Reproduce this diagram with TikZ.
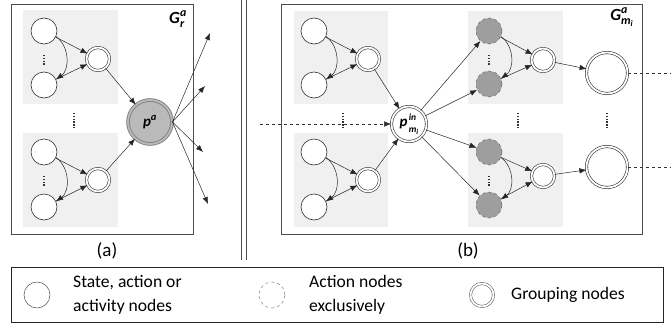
\documentclass[tikz,border=0pt]{standalone}
\usepackage{amsmath}
\usepackage{fontspec}
\setmainfont{Carlito}
\usetikzlibrary{arrows.meta}
\newcommand\bi[1]{\textbf{\textit{#1}}}
\begin{document}
\begin{tikzpicture}[x=1pt,y=-1pt,
  frame/.style={draw=black!70, line width=0.8pt},
  greyzone/.style={fill=black!6, draw=none},
  state/.style={circle, draw=black!80, fill=white, line width=0.6pt, minimum size=26pt, inner sep=0pt},
  actnode/.style={circle, draw=black!60, dashed, fill=black!38, line width=0.5pt, minimum size=26pt, inner sep=0pt},
  group/.style={circle, draw=black!80, double=white, double distance=1.8pt, line width=0.6pt, minimum size=23pt, inner sep=0pt, fill=white},
  arr/.style={-{Latex[length=7pt,width=5.5pt]}, line width=0.5pt, draw=black!85},
  dots/.style={line width=1.3pt, dash pattern=on 1.3pt off 1.5pt, draw=black!80},
  dline/.style={dashed, line width=0.5pt, draw=black!80},
  lbl/.style={font=\fontsize{19}{22}\selectfont},
  leg/.style={font=\fontsize{17.6}{24}\selectfont, align=left, anchor=west, inner sep=0pt}
]
\useasboundingbox (0,0) rectangle (671,324);
% ---------------- (a) ----------------
\draw[frame] (11,4) rectangle (193,234);
\fill[greyzone] (23,10) rectangle (118,104);
\fill[greyzone] (23,133) rectangle (118,227);
\node[state] (a1) at (44,31) {};
\node[state] (a2) at (44,85) {};
\node[group] (ag1) at (98,59) {};
\node[state] (a3) at (44,152) {};
\node[state] (a4) at (44,207) {};
\node[group] (ag2) at (98,180) {};
\node[circle, draw=black!50, double=black!27, double distance=1.8pt, line width=0.9pt, fill=black!27, minimum size=44pt, inner sep=0pt, font=\fontsize{15}{15}\selectfont] (pa) at (150,122) {\bi{p}$^{\bi{a}}$};
\node[font=\fontsize{17}{17}\selectfont] (Gr) at (178,19) {$\bi{G}^{\bi{a}}_{\bi{r}}$};
\draw[dots] (44,55) -- (44,66);
\draw[dots] (44,176) -- (44,187);
\draw[dots] (74,113) -- (74,128);
\foreach \t/\b/\g in {a1/a2/ag1, a3/a4/ag2}{
  \draw[arr] (\t) -- (\g);
  \draw[arr] (\b) -- (\g);
  \draw[arr] (\t.-25) to[out=-35,in=35] (\b.25);
}
\draw[arr] (ag1) -- (pa);
\draw[arr] (ag2) -- (pa);
\coordinate (o1) at (210,33);
\coordinate (o2) at (205,86);
\coordinate (o3) at (203,152);
\coordinate (o4) at (208,204);
\foreach \o in {o1,o2,o3,o4} \draw[arr] (pa.east) -- (\o);
\node[lbl] (la) at (107,251) {(a)};
% separator
\draw[black!70, line width=0.8pt] (241,0) -- (241,260);
\draw[black!70, line width=0.8pt] (246,0) -- (246,260);
% ---------------- (b) ----------------
\draw[frame] (281,4) rectangle (642,234);
\fill[greyzone] (294,11) rectangle (388,104);
\fill[greyzone] (294,133) rectangle (388,227);
\fill[greyzone] (468,11) rectangle (563,104);
\fill[greyzone] (468,133) rectangle (563,227);
\node[state] (b1) at (314,31) {};
\node[state] (b2) at (314,85) {};
\node[group] (bg1) at (368,59) {};
\node[state] (b3) at (314,152) {};
\node[state] (b4) at (314,207) {};
\node[group] (bg2) at (368,180) {};
\node[circle, draw=black!80, double=white, double distance=1.8pt, line width=0.6pt, fill=white, minimum size=35pt, inner sep=0pt, font=\fontsize{15}{15}\selectfont] (pin) at (409,124) {\bi{p}\kern1.2pt\rlap{\raisebox{6.5pt}{\fontsize{9.5}{9.5}\selectfont\bi{in}}}\raisebox{-5.5pt}{\fontsize{9.5}{9.5}\selectfont\bi{m}\raisebox{-2.5pt}{\fontsize{7.5}{7.5}\selectfont\bi{i}}}};
\coordinate (din) at (260,124);
\draw[dline, -{Latex[length=7pt,width=5.5pt]}] (din) -- (pin);
\draw[dots] (343,113) -- (343,128);
\foreach \t/\b/\g in {b1/b2/bg1, b3/b4/bg2}{
  \draw[arr] (\t) -- (\g);
  \draw[arr] (\b) -- (\g);
  \draw[arr] (\t.-25) to[out=-35,in=35] (\b.25);
}
\draw[arr] (bg1) -- (pin);
\draw[arr] (bg2) -- (pin);
\node[actnode] (c1) at (489,31) {};
\node[actnode] (c2) at (489,84) {};
\node[group] (cg1) at (543,60) {};
\node[actnode] (c3) at (489,152) {};
\node[actnode] (c4) at (489,205) {};
\node[group] (cg2) at (543,176) {};
\foreach \t/\b/\g in {c1/c2/cg1, c3/c4/cg2}{
  \draw[arr] (\t) -- (\g);
  \draw[arr] (\b) -- (\g);
  \draw[arr] (\t.-25) to[out=-35,in=35] (\b.25);
}
\foreach \c in {c1,c2,c3,c4} \draw[arr] (pin) -- (\c);
\draw[dots] (489,55) -- (489,66);
\draw[dots] (489,176) -- (489,187);
\draw[dots] (518,113) -- (518,128);
\node[circle, draw=black!80, double=white, double distance=1.8pt, line width=0.6pt, fill=white, minimum size=41pt, inner sep=0pt] (e1) at (607,73) {};
\node[circle, draw=black!80, double=white, double distance=1.8pt, line width=0.6pt, fill=white, minimum size=41pt, inner sep=0pt] (e2) at (607,167) {};
\draw[dots] (607,113) -- (607,128);
\draw[arr] (cg1) -- (e1);
\draw[arr] (cg2) -- (e2);
\coordinate (r1) at (671,73);
\coordinate (r2) at (671,167);
\draw[dline] (e1.east) -- (r1);
\draw[dline] (e2.east) -- (r2);
\node[font=\fontsize{17}{17}\selectfont] (Gm) at (622,17) {$\bi{G}^{\bi{a}}_{\bi{m}_{\bi{i}}}$};
\node[lbl] (lb) at (468,251) {(b)};
% ---------------- legend ----------------
\draw[black!85, line width=0.8pt] (11,267) rectangle (663,322);
\node[circle, draw=black!70, line width=0.5pt, minimum size=26pt, inner sep=0pt] (l1) at (37,295) {};
\node[leg] (t1) at (73,295) {State, action or\\activity nodes};
\node[circle, draw=black!50, dashed, line width=0.5pt, minimum size=26pt, inner sep=0pt] (l2) at (272,295) {};
\node[leg] (t2) at (309,295) {Action nodes\\exclusively};
\node[circle, draw=black!70, double=white, double distance=1.8pt, line width=0.5pt, minimum size=23pt, inner sep=0pt] (l3) at (482,295) {};
\node[leg] (t3) at (511,295) {Grouping nodes};
\end{tikzpicture}
\end{document}
